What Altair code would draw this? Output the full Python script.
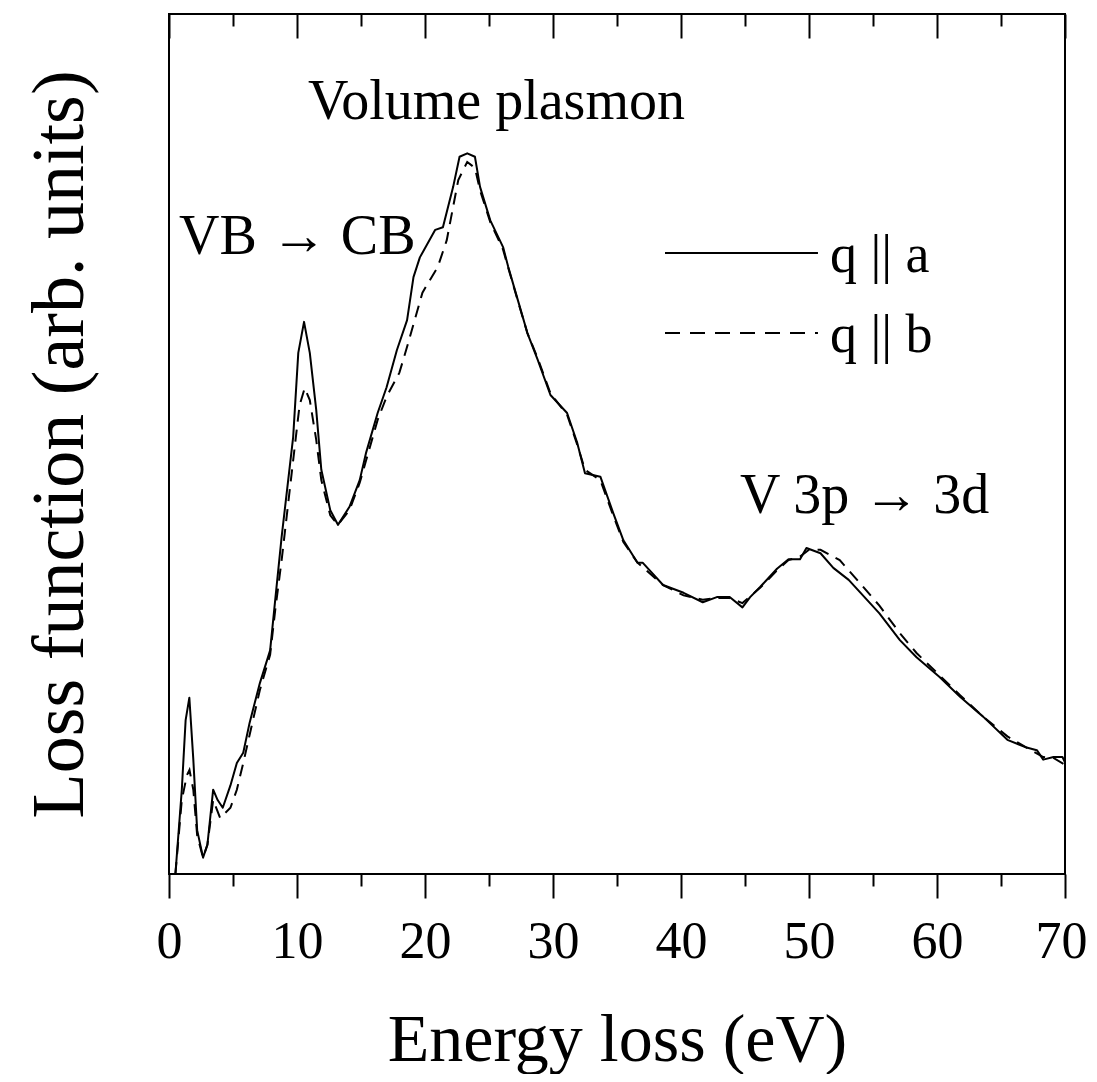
import altair as alt
import pandas as pd

# q || a (solid)
energy_a = [0.5, 1.0, 1.3, 1.59, 1.9, 2.2, 2.66, 3.0, 3.45, 3.8, 4.2, 4.8, 5.3, 5.8, 6.3, 7.1, 7.9, 8.3, 8.8,
            9.7, 10.1, 10.55, 11.0, 11.5, 11.9, 12.6, 13.2, 14.1, 14.9, 15.4, 16.3, 17.0, 17.8, 18.6, 19.1,
            19.6, 20.8, 21.4, 22.2, 22.7, 23.3, 23.9, 24.3, 25.1, 26.1, 26.5, 27.3, 28.0, 28.8, 29.8, 31.1,
            31.9, 32.5, 33.7, 34.7, 35.5, 36.6, 37.0, 38.6, 40.2, 41.7, 42.8, 43.8, 44.8, 45.4, 46.2, 47.5,
            48.4, 49.3, 49.8, 50.9, 51.9, 53.1, 55.5, 57.1, 58.4, 60.2, 61.8, 63.6, 65.5, 67.0, 67.8, 68.3,
            69.1, 69.8, 70.0]
loss_a = [0.0, 9.8, 17.9, 20.5, 13.3, 5.1, 1.9, 3.4, 9.8, 8.6, 7.7, 10.3, 12.9, 14.1, 17.6, 22.2, 26.0, 31.9, 39.2,
          50.8, 60.6, 64.2, 60.6, 54.0, 47.0, 42.3, 40.6, 42.7, 45.8, 49.0, 53.6, 56.6, 60.9, 64.4, 69.4,
          71.7, 74.9, 75.2, 79.9, 83.4, 83.8, 83.4, 79.9, 76.0, 72.9, 70.6, 66.5, 62.9, 59.8, 55.7, 53.6,
          50.1, 46.6, 46.2, 42.0, 38.8, 36.2, 36.2, 33.6, 32.7, 31.6, 32.2, 32.2, 31.0, 32.2, 33.4, 35.5,
          36.6, 36.6, 37.9, 37.3, 35.6, 34.2, 30.3, 27.2, 25.2, 22.9, 20.6, 18.3, 15.6, 14.7, 14.4, 13.3,
          13.6, 13.6, 13.0]

# q || b (dashed)
energy_b = [0.5, 1.0, 1.4, 1.6, 1.9, 2.2, 2.66, 3.0, 3.45, 4.0, 4.8, 5.3, 5.8, 6.3, 7.1, 7.9, 8.3, 8.8, 9.7,
            10.2, 10.6, 11.0, 11.5, 11.9, 12.6, 13.2, 14.1, 14.9, 15.4, 16.3, 17.0, 18.0, 18.6, 19.8, 21.0,
            21.7, 22.2, 22.6, 23.3, 23.9, 24.3, 25.1, 26.1, 26.5, 27.3, 28.0, 28.8, 29.8, 31.1, 31.9, 32.5,
            33.7, 34.7, 35.5, 36.6, 38.6, 40.2, 41.7, 42.8, 43.8, 44.8, 46.2, 47.5, 48.4, 49.3, 50.0, 50.9,
            52.4, 54.0, 55.5, 57.1, 58.4, 60.2, 61.8, 63.6, 65.5, 67.0, 68.3, 69.1, 70.0]
loss_b = [0.0, 8.6, 11.5, 12.1, 9.8, 4.5, 1.9, 3.4, 8.6, 6.5, 7.7, 9.8, 12.9, 16.2, 21.4, 25.5, 30.7, 36.5, 48.1,
          54.5, 56.5, 55.1, 50.5, 45.8, 41.7, 40.6, 42.3, 45.5, 48.1, 52.8, 55.5, 58.3, 61.3, 67.6, 70.6,
          73.7, 77.6, 80.7, 82.8, 82.1, 79.5, 75.8, 72.6, 70.5, 66.4, 62.9, 60.0, 55.9, 53.4, 49.9, 47.0,
          45.8, 41.7, 38.6, 36.2, 33.6, 32.4, 31.9, 32.1, 32.1, 31.5, 33.3, 35.3, 36.5, 36.9, 37.7, 37.7,
          36.5, 33.8, 31.2, 28.0, 25.7, 23.1, 20.8, 18.3, 16.0, 14.7, 13.6, 13.5, 12.7]

# annotations
ann_text = ["Volume plasmon", "VB \u2192 CB", "V 3p \u2192 3d"]
ann_x = [10.86, 0.78, 44.6]
ann_y = [87.8, 72.1, 42.0]

# legend
legend_labels = ["q || a", "q || b"]
legend_line_x = [38.75, 50.7]
legend_line_y = [72.2, 62.9]
legend_text_x = [51.64, 51.64]
legend_text_y = [70.0, 60.7]

major_ticks = [0, 10, 20, 30, 40, 50, 60, 70]
minor_ticks = [5, 15, 25, 35, 45, 55, 65]

FONT = "Liberation Serif"

df_a = pd.DataFrame({"energy": energy_a, "loss": loss_a})
df_b = pd.DataFrame({"energy": energy_b, "loss": loss_b})
df_ann = pd.DataFrame({"energy": ann_x, "loss": ann_y, "text": ann_text})
df_leg_text = pd.DataFrame({"energy": legend_text_x, "loss": legend_text_y, "text": legend_labels})
df_leg_a = pd.DataFrame({"energy": legend_line_x, "loss": [legend_line_y[0]] * 2})
df_leg_b = pd.DataFrame({"energy": legend_line_x, "loss": [legend_line_y[1]] * 2})

xscale = alt.Scale(domain=[0, 70], nice=False, zero=False)
yscale = alt.Scale(domain=[0, 100], nice=False, zero=False)

axis_major_bottom = alt.Axis(
    orient="bottom", values=major_ticks, tickSize=24, tickWidth=2, tickColor="black",
    domain=False, grid=False, labelFont=FONT, labelFontSize=52, labelColor="black",
    labelBaseline="alphabetic", labelPadding=59, labelFlush=False, labelOverlap=False,
    labelOffset={"condition": {"test": "datum.value === 70", "value": -4}, "value": 0},
    title="Energy loss (eV)", titleFont=FONT, titleFontSize=68, titleFontWeight="normal",
    titleColor="black", titleBaseline="alphabetic", titleAlign="center", titleX=448, titleY=186,
)
axis_minor_bottom = alt.Axis(
    orient="bottom", values=minor_ticks, tickSize=12, tickWidth=2, tickColor="black",
    domain=False, grid=False, labels=False, title="",
)
axis_major_top = alt.Axis(
    orient="bottom", offset=-860, values=major_ticks, tickSize=24, tickWidth=2, tickColor="black",
    domain=False, grid=False, labels=False, title="",
)
axis_minor_top = alt.Axis(
    orient="bottom", offset=-860, values=minor_ticks, tickSize=12, tickWidth=2, tickColor="black",
    domain=False, grid=False, labels=False, title="",
)
axis_y = alt.Axis(
    orient="left", domain=False, ticks=False, labels=False, grid=False,
    title="Loss function (arb. units)", titleFont=FONT, titleFontSize=74, titleFontWeight="normal",
    titleColor="black", titleBaseline="alphabetic", titlePadding=87, titleAngle=270,
)

Y = alt.Y("loss:Q", scale=yscale, axis=axis_y)

solid = alt.Chart(df_a).mark_line(color="black", strokeWidth=2, strokeJoin="round").encode(
    x=alt.X("energy:Q", scale=xscale, axis=axis_major_bottom),
    y=Y,
)
dashed = alt.Chart(df_b).mark_line(color="black", strokeWidth=2, strokeDash=[12, 8]).encode(
    x=alt.X("energy:Q", scale=xscale, axis=axis_minor_bottom),
    y=Y,
)
ann = alt.Chart(df_ann).mark_text(
    font=FONT, fontSize=56, align="left", baseline="alphabetic", color="black"
).encode(
    x=alt.X("energy:Q", scale=xscale, axis=axis_major_top),
    y=Y,
    text="text:N",
)
leg_text = alt.Chart(df_leg_text).mark_text(
    font=FONT, fontSize=54, align="left", baseline="alphabetic", color="black"
).encode(
    x=alt.X("energy:Q", scale=xscale, axis=axis_minor_top),
    y=Y,
    text="text:N",
)
leg_a = alt.Chart(df_leg_a).mark_line(color="black", strokeWidth=2).encode(
    x=alt.X("energy:Q", scale=xscale, axis=None),
    y=Y,
)
leg_b = alt.Chart(df_leg_b).mark_line(color="black", strokeWidth=2, strokeDash=[15, 10]).encode(
    x=alt.X("energy:Q", scale=xscale, axis=None),
    y=Y,
)

chart = alt.layer(solid, dashed, ann, leg_text, leg_a, leg_b).resolve_axis(
    x="independent"
).properties(
    width=896, height=860,
    padding={"left": 161, "top": 6, "right": 24, "bottom": 200},
    autosize=alt.AutoSizeParams(type="none"),
    background="white",
).configure_view(stroke="black", strokeWidth=2)

chart.save("out.html", embed_options={"renderer": "svg", "actions": False})
